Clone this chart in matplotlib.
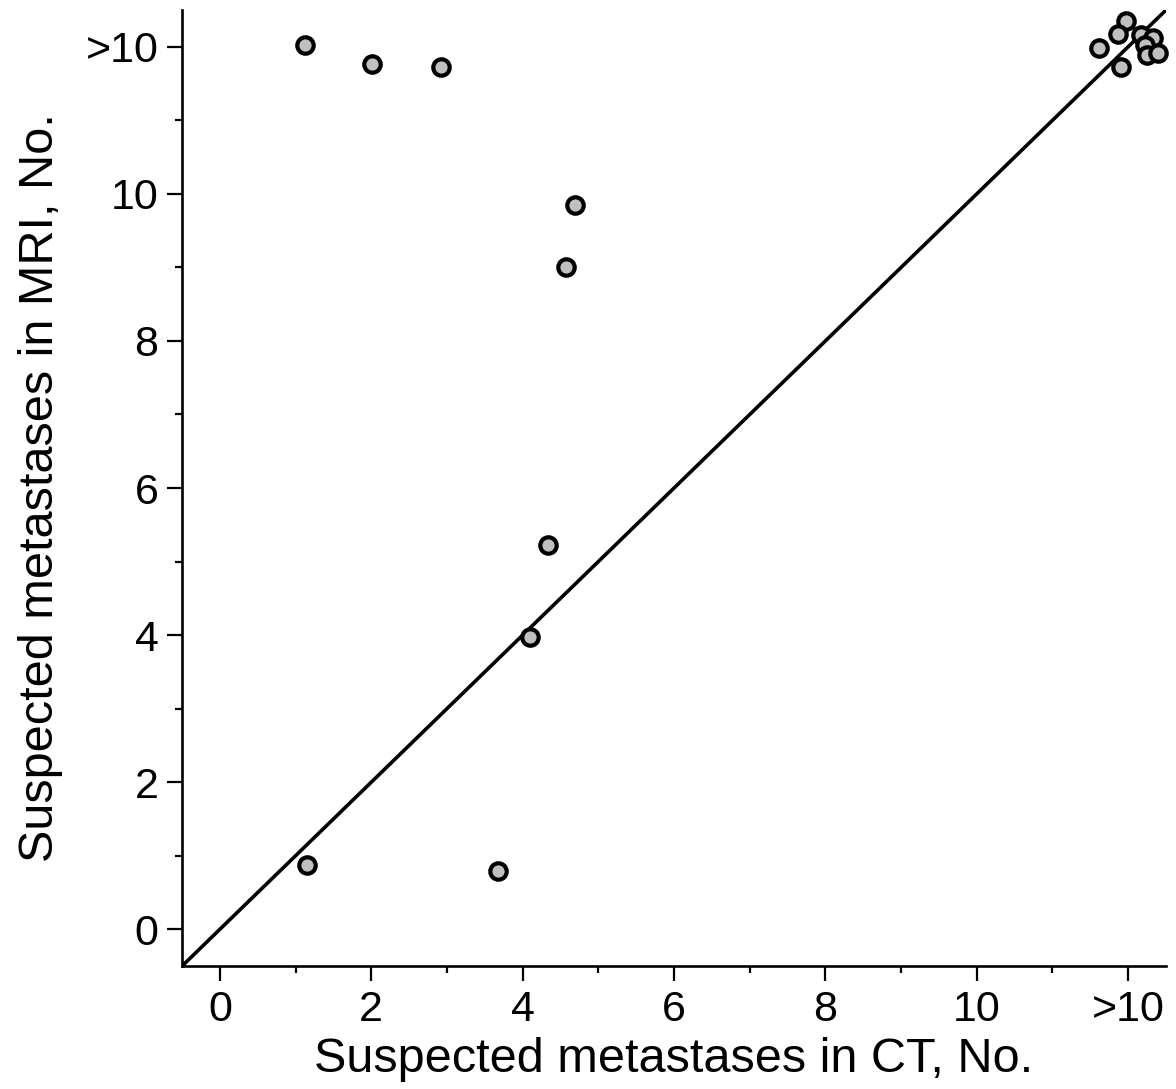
import matplotlib
matplotlib.use('Agg')
import matplotlib.pyplot as plt
import numpy as np

# values (12 = ">10")
ct = [1.12, 2.01, 2.92, 4.69, 4.57, 4.33, 4.10, 1.15, 3.67,
      11.97, 11.86, 11.62, 11.90, 12.17, 12.33, 12.22, 12.25, 12.39]
mri = [12.03, 11.77, 11.73, 9.85, 9.01, 5.22, 3.97, 0.87, 0.79,
       12.35, 12.18, 11.99, 11.73, 12.16, 12.12, 12.03, 11.89, 11.92]

tick_pos = [0, 2, 4, 6, 8, 10, 12]
tick_labels = ['0', '2', '4', '6', '8', '10', '>10']

plt.rcParams['font.family'] = ['Liberation Sans', 'DejaVu Sans']

fig = plt.figure(figsize=(11.76, 10.89), dpi=100)
ax = fig.add_axes([0.1548, 0.1129, 0.8367, 0.8779])

ax.plot([-0.5, 12.5], [-0.5, 12.5], color='black', lw=2.6, zorder=1)
ax.scatter(ct, mri, s=140, facecolor='#c0c0c0', edgecolor='black',
           linewidths=3.0, zorder=3, clip_on=False)

ax.set_xlim(-0.5, 12.5)
ax.set_ylim(-0.5, 12.5)
ax.set_xticks(tick_pos)
ax.set_xticklabels(tick_labels)
ax.set_yticks(tick_pos)
ax.set_yticklabels(tick_labels)
ax.set_xticks([1, 3, 5, 7, 9, 11], minor=True)
ax.set_yticks([1, 3, 5, 7, 9, 11], minor=True)
ax.tick_params(which='major', length=11, width=1.6, labelsize=31, pad=6)
ax.tick_params(which='minor', length=5, width=1.6)

for s in ['top', 'right']:
    ax.spines[s].set_visible(False)
for s in ['left', 'bottom']:
    ax.spines[s].set_linewidth(1.9)

ax.set_xlabel('Suspected metastases in CT, No.', fontsize=35, labelpad=5)
ax.set_ylabel('Suspected metastases in MRI, No.', fontsize=35, labelpad=16)

fig.savefig('out.png', dpi=100)
